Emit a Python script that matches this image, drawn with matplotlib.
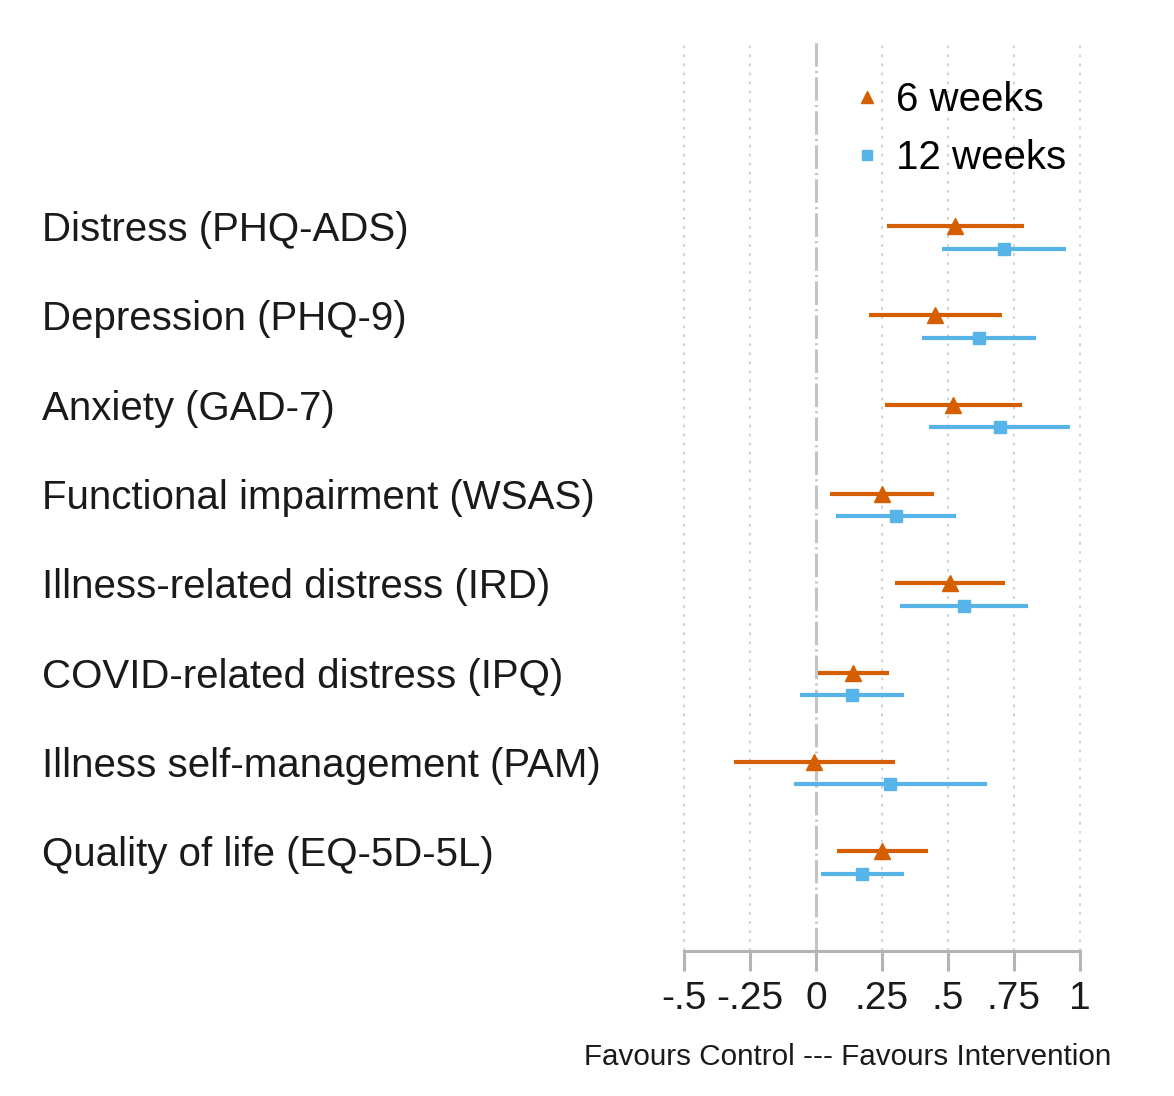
import matplotlib

matplotlib.use("Agg")
import matplotlib.pyplot as plt
from matplotlib.lines import Line2D
from matplotlib.transforms import blended_transform_factory

plt.rcParams["font.family"] = ["Liberation Sans", "DejaVu Sans"]
plt.rcParams["lines.scale_dashes"] = False

# Данные (оценены по картинке)
outcomes = [
    "Distress (PHQ-ADS)",
    "Depression (PHQ-9)",
    "Anxiety (GAD-7)",
    "Functional impairment (WSAS)",
    "Illness-related distress (IRD)",
    "COVID-related distress (IPQ)",
    "Illness self-management (PAM)",
    "Quality of life (EQ-5D-5L)",
]
est_6w = [0.528, 0.451, 0.520, 0.250, 0.506, 0.141, -0.008, 0.249]
lo_6w = [0.269, 0.201, 0.260, 0.054, 0.300, 0.006, -0.312, 0.078]
hi_6w = [0.788, 0.704, 0.781, 0.448, 0.716, 0.276, 0.299, 0.423]
est_12w = [0.712, 0.616, 0.696, 0.304, 0.560, 0.137, 0.281, 0.173]
lo_12w = [0.477, 0.401, 0.428, 0.074, 0.319, -0.060, -0.085, 0.020]
hi_12w = [0.947, 0.834, 0.964, 0.531, 0.803, 0.335, 0.649, 0.333]

tick_vals = [-0.5, -0.25, 0, 0.25, 0.5, 0.75, 1]
tick_labels = ["-.5", "-.25", "0", ".25", ".5", ".75", "1"]
series_labels = ["6 weeks", "12 weeks"]

ORANGE = "#D55E00"
BLUE = "#56B4E9"
GRAY = "#b4b4b4"
OFFSET = 0.253  # сдвиг 12-недельной строки

fig = plt.figure(figsize=(11.74, 10.96), dpi=100)
ax = fig.add_axes([684 / 1174, 1 - 951 / 1096, 396 / 1174, 911 / 1096])

rows = list(range(len(outcomes)))
rows_12 = [r + OFFSET for r in rows]

# Сетка и нулевая линия
for v in tick_vals:
    if v == 0:
        continue
    ax.axvline(v, color="#cacaca", lw=1.2, dashes=(2, 4.5), zorder=1, clip_on=False)
zl = ax.axvline(0, color="#c4c4c4", lw=2.2, zorder=1)
zl.set_dashes((17, 3, 1.5, 3))

# Доверительные интервалы и точки
ax.hlines(rows, lo_6w, hi_6w, color=ORANGE, lw=3, zorder=3)
ax.plot(est_6w, rows, "^", color=ORANGE, ms=11, zorder=4)
ax.hlines(rows_12, lo_12w, hi_12w, color=BLUE, lw=3, zorder=3)
ax.plot(est_12w, rows_12, "s", color=BLUE, ms=9, zorder=4)

ax.set_xlim(-0.5, 1.0)
ax.set_ylim((951 - 226) / 89.3, (40 - 226) / 89.3)

# Подписи исходов слева
trans = blended_transform_factory(fig.transFigure, ax.transData)
for r, name in zip(rows, outcomes):
    ax.text(42 / 1174, r + 0.17, name, transform=trans, ha="left",
            va="baseline", fontsize=29, color="#1a1a1a")

# Оси
for side in ["top", "left", "right"]:
    ax.spines[side].set_visible(False)
ax.spines["bottom"].set_color(GRAY)
ax.spines["bottom"].set_linewidth(2.2)
ax.spines["bottom"].set_bounds(-0.5, 1.0)
ax.set_yticks([])
ax.set_xticks(tick_vals)
ax.set_xticklabels(tick_labels)
ax.tick_params(axis="x", length=14.5, width=2.2, color=GRAY,
               labelsize=28, pad=7, labelcolor="#1a1a1a")
ax.set_xlabel("Favours Control --- Favours Intervention", fontsize=21.3,
              color="#1a1a1a", ha="center", va="center")
ax.xaxis.set_label_coords((847.5 - 684) / 396, -(1057 - 951) / 911)

# Легенда
handles = [
    Line2D([], [], marker="^", color=ORANGE, ls="none", ms=9),
    Line2D([], [], marker="s", color=BLUE, ls="none", ms=7),
]
ax.legend(handles, series_labels, loc="upper left",
          bbox_to_anchor=(819 / 1174, 1 - 45 / 1096),
          bbox_transform=fig.transFigure, frameon=False, fontsize=29,
          handlelength=0.6, handletextpad=0.4, labelspacing=0.5,
          borderpad=0.4)

fig.savefig("out.png", dpi=100, facecolor="white")
